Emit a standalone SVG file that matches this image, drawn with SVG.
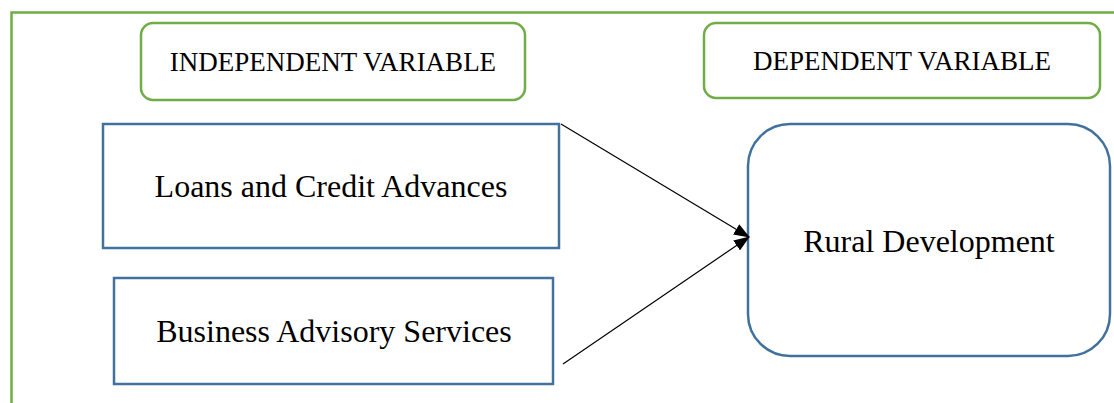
<svg xmlns="http://www.w3.org/2000/svg" width="1114" height="403" viewBox="0 0 1114 403">
<style>
.frame{fill:none;stroke:#70AD47;stroke-width:2.5}
.hdr{fill:#fff;stroke:#70AD47;stroke-width:2.5}
.box{fill:#fff;stroke:#41719C;stroke-width:2.5}
.t{font-family:"Liberation Serif",serif;fill:#000;text-anchor:middle;dominant-baseline:central}
.conn{stroke:#000;stroke-width:1.2;fill:none}
</style>
<defs>
<marker id="ah" viewBox="0 0 16 12" refX="15" refY="6" markerWidth="16" markerHeight="12" markerUnits="userSpaceOnUse" orient="auto">
<path d="M0,0 L16,6 L0,12 z" fill="#000"/>
</marker>
</defs>
<rect x="0" y="0" width="1114" height="403" fill="#fff"/>
<rect class="frame" x="11.5" y="12.5" width="1120" height="420"/>
<g id="independent">
<rect class="hdr" x="141" y="23" width="384" height="77" rx="12"/>
<text class="t" x="333" y="62" font-size="27">INDEPENDENT VARIABLE</text>
</g>
<g id="dependent">
<rect class="hdr" x="704" y="23" width="396" height="75" rx="12"/>
<text class="t" x="902" y="61" font-size="27">DEPENDENT VARIABLE</text>
</g>
<g id="loans">
<rect class="box" x="103" y="124" width="456" height="124"/>
<text class="t" x="331" y="186" font-size="32">Loans and Credit Advances</text>
</g>
<g id="business">
<rect class="box" x="114" y="278" width="439" height="106"/>
<text class="t" x="334" y="331" font-size="32">Business Advisory Services</text>
</g>
<g id="rural">
<rect class="box" x="748" y="124" width="362" height="232" rx="42"/>
<text class="t" x="929" y="241" font-size="32">Rural Development</text>
</g>
<g id="connectors">
<line class="conn" x1="561" y1="124" x2="749" y2="237" marker-end="url(#ah)"/>
<line class="conn" x1="563" y1="364" x2="749" y2="237" marker-end="url(#ah)"/>
</g>
</svg>
